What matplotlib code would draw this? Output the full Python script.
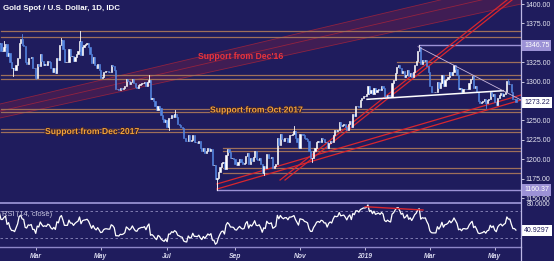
import numpy as np
import pandas as pd
import matplotlib
matplotlib.use("Agg")
import matplotlib.pyplot as plt
from matplotlib.lines import Line2D
import matplotlib.patheffects as pe
import matplotlib.transforms as mtransforms

# ---------------- data ----------------
start_date = "2018-01-02"          # first (warm-up) bar
view_start = "2018-01-29"          # first bar visible on the chart

closes = [
    # Jan 2018
    1316, 1313, 1322, 1320, 1320, 1313, 1319, 1322, 1338, 1340, 1337, 1327, 1327, 1333,
    1332, 1340, 1358, 1348, 1350, 1340, 1340, 1345,
    # Feb 2018
    1348, 1333, 1337, 1325, 1318, 1318, 1315, 1322, 1330, 1350, 1355, 1347, 1346, 1325,
    1323, 1331, 1330, 1332, 1318, 1318,
    # Mar 2018
    1305, 1323, 1320, 1335, 1327, 1321, 1323, 1321, 1327, 1325, 1317, 1313, 1317, 1311,
    1331, 1328, 1347, 1354, 1342, 1325, 1325, 1325,
    # Apr 2018
    1342, 1333, 1333, 1326, 1332, 1336, 1339, 1353, 1334, 1345, 1347, 1348, 1350, 1345,
    1335, 1324, 1332, 1322, 1317, 1323, 1315,
    # May 2018
    1305, 1306, 1312, 1314, 1314, 1313, 1313, 1322, 1320, 1315, 1290, 1290, 1289, 1292,
    1291, 1292, 1294, 1304, 1301, 1297, 1299, 1304, 1298,
    # Jun 2018
    1293, 1292, 1296, 1297, 1298, 1298, 1299, 1294, 1299, 1302, 1278, 1279, 1275, 1268,
    1263, 1269, 1266, 1257, 1252, 1248, 1251,
    # Jul 2018
    1241, 1253, 1253, 1257, 1255, 1258, 1255, 1246, 1244, 1241, 1240, 1227, 1224, 1223,
    1231, 1224, 1225, 1231, 1222, 1222, 1221, 1223,
    # Aug 2018
    1215, 1210, 1214, 1208, 1211, 1214, 1211, 1213, 1193, 1193, 1174, 1176, 1184, 1190,
    1195, 1196, 1187, 1206, 1213, 1209, 1201, 1201, 1200,
    # Sep 2018
    1194, 1193, 1197, 1200, 1196, 1194, 1195, 1204, 1208, 1194, 1201, 1198, 1203, 1210,
    1200, 1199, 1201, 1194, 1182, 1191,
    # Oct 2018
    1189, 1207, 1202, 1201, 1203, 1189, 1191, 1194, 1227, 1218, 1232, 1226, 1223, 1227,
    1227, 1222, 1231, 1231, 1233, 1236, 1228, 1222, 1215,
    # Nov 2018
    1233, 1232, 1231, 1227, 1226, 1224, 1210, 1202, 1202, 1210, 1215, 1222, 1224, 1222,
    1227, 1226, 1222, 1222, 1214, 1221, 1224, 1222,
    # Dec 2018
    1231, 1238, 1237, 1238, 1248, 1243, 1244, 1245, 1242, 1238, 1245, 1249, 1242, 1258,
    1256, 1269, 1269, 1267, 1276, 1279, 1282,
    # Jan 2019
    1282, 1284, 1294, 1285, 1289, 1284, 1292, 1287, 1289, 1291, 1289, 1294, 1292, 1282,
    1280, 1283, 1281, 1280, 1298, 1302, 1311, 1319, 1321,
    # Feb 2019
    1317, 1311, 1314, 1306, 1309, 1315, 1307, 1311, 1306, 1313, 1322, 1327, 1340, 1344,
    1323, 1328, 1327, 1328, 1320, 1313,
    # Mar 2019
    1294, 1287, 1286, 1286, 1286, 1299, 1292, 1298, 1309, 1295, 1302, 1303, 1306, 1313,
    1308, 1313, 1322, 1316, 1309, 1290, 1292,
    # Apr 2019
    1286, 1291, 1291, 1290, 1291, 1298, 1303, 1307, 1292, 1295, 1287, 1275, 1273, 1274,
    1275, 1277, 1272, 1276, 1277, 1286, 1281, 1284,
    # May 2019
    1274, 1270, 1279, 1283, 1285, 1281, 1284, 1286, 1301, 1297, 1297, 1287, 1277, 1277,
    1273.22,
]

# notable wick extremes
wick_high_dates = ["2018-02-16", "2018-04-11", "2018-06-14", "2018-07-09", "2018-10-26",
                   "2019-02-20", "2019-05-14", "2018-01-31", "2018-03-26"]
wick_high_vals = [1362, 1365.4, 1309, 1263, 1243, 1346.75, 1304, 1352, 1356]
wick_low_dates = ["2018-02-08", "2018-03-01", "2018-08-16", "2018-11-13", "2018-07-03",
                  "2018-09-28", "2019-04-23"]
wick_low_vals = [1307, 1303, 1160.37, 1196, 1238, 1180, 1266]

# horizontal support / resistance zones: (start date, price)
zone_starts = ["2018-01-29"] * 8 + ["2019-01-30"] + ["2018-08-22"] * 4
zone_prices = [1365.5, 1358.0, 1308.5, 1303.4, 1264.7, 1260.5, 1238.6, 1234.7,
               1325.7, 1214.9, 1210.6, 1188.3, 1181.9]

price_ticks = [1150, 1175, 1200, 1225, 1250, 1300, 1325, 1375, 1400]
last_price = 1273.22
swing_high = 1346.75
swing_low = 1160.37
rsi_last_label = 40.9297
rsi_upper, rsi_lower = 70, 30

month_names = {3: "Mar", 5: "May", 7: "Jul", 9: "Sep", 11: "Nov", 1: "2019"}

# ---------------- derived ----------------
closes = np.array(closes, dtype=float)
dates = pd.bdate_range(start_date, periods=len(closes))
i0 = int(np.searchsorted(dates, pd.Timestamp(view_start)))
x = np.arange(len(closes)) - i0
opens = np.r_[closes[0], closes[:-1]]


def xi(d):
    return int(np.searchsorted(dates, pd.Timestamp(d))) - i0


# RSI(14), Wilder smoothing
delta = np.diff(closes, prepend=closes[0])
gain = pd.Series(np.clip(delta, 0, None)).ewm(alpha=1 / 14, adjust=False).mean()
loss = pd.Series(np.clip(-delta, 0, None)).ewm(alpha=1 / 14, adjust=False).mean()
rsi = (100 - 100 / (1 + gain / loss.replace(0, np.nan))).to_numpy()

# ---------------- style ----------------
BG = "#1f1c5d"
UP = "#ffffff"
DN = "#5585e0"
ZONE = "#a6745a"
RED = "#d8262e"
LAV = "#9c92d6"
AXIS = "#bdb8e6"
plt.rcParams["font.family"] = ["Liberation Sans", "DejaVu Sans"]

W, H = 554, 261
fig = plt.figure(figsize=(W / 100, H / 100), dpi=100)
fig.patch.set_facecolor(BG)

ax = fig.add_axes([0, 1 - 203 / H, 521 / W, 203 / H])
axr = fig.add_axes([0, 1 - 247 / H, 521 / W, 44 / H], sharex=ax)
for a in (ax, axr):
    a.set_facecolor(BG)
    for s in a.spines.values():
        s.set_visible(False)

px = 1.51
ax.set_xlim(-1 / px, 520 / px)
ax.set_ylim(1143.6, 1405.2)
axr.set_ylim(16.2, 81.5)

# Dec'16 support band (faint)
xl, xr = -20, 400
def line_pts(p1, p2):
    (a1, b1), (a2, b2) = p1, p2
    k = (b2 - b1) / (a2 - a1)
    return [xl, xr], [b1 + k * (xl - a1), b1 + k * (xr - a1)]

band_up = line_pts((-0.66, 1271.2), (290.7, 1405.2))
band_lo = line_pts((-0.66, 1253.1), (344.4, 1400.0))
band_mid = line_pts((-0.66, 1262.0), (318.0, 1405.2))
ax.fill_between(band_up[0], band_lo[1], band_up[1], color=RED, alpha=0.18, lw=0, zorder=1)
for bx, by in (band_up, band_lo, band_mid):
    ax.plot(bx, by, color=RED, lw=0.6, alpha=0.55, zorder=1)

# horizontal zones
for d, p in zip(zone_starts, zone_prices):
    ax.plot([xi(d), 400], [p, p], color=ZONE, lw=0.9, alpha=0.95, zorder=2)

# swing high / low markers
ax.plot([xi("2018-08-16"), 400], [swing_low, swing_low], color=LAV, lw=1.0, zorder=2)
ax.plot([xi("2018-08-16")] * 2, [swing_low, 1170], color=LAV, lw=0.8, zorder=2)
ax.plot([xi("2019-02-20"), 400], [swing_high, swing_high], color=LAV, lw=1.0, zorder=2)

# rising channels
steep_k = 232 / 150.3
for off in (0.0, 3.3):
    ax.plot([184.8 + off, 400], [1173.2, 1173.2 + (400 - 184.8 - off) * steep_k],
            color=RED, lw=0.9, zorder=3)
for p_start, p_end in ((1161.6, 1276.3), (1168.1, 1282.8)):
    k = (p_end - p_start) / (344.4 - 143.0)
    ax.plot([143.0, 400], [p_start, p_start + k * (400 - 143.0)], color=RED, lw=0.9, zorder=3)

# candles
up = closes >= opens
cols = np.where(up, UP, DN)
ax.bar(x, closes - opens, bottom=opens, width=0.8, color=cols, edgecolor=cols,
       linewidth=0.45, zorder=4)
for d, v in zip(wick_high_dates, wick_high_vals):
    j = xi(d) + i0
    c = UP if up[j] else DN
    ax.plot([xi(d)] * 2, [max(opens[j], closes[j]), v], color=c, lw=0.6, zorder=4)
for d, v in zip(wick_low_dates, wick_low_vals):
    j = xi(d) + i0
    c = UP if up[j] else DN
    ax.plot([xi(d)] * 2, [min(opens[j], closes[j]), v], color=c, lw=0.6, zorder=4)

# neckline and descending line
ax.plot([242.4, 332.5], [1277.2, 1288.3], color="white", lw=1.1, zorder=5)
ax.plot([276.2, 344.4], [1345.0, 1276.3], color="#c9b6dc", lw=0.6, zorder=5)

# labels on chart
outline = [pe.withStroke(linewidth=1.2, foreground="#3a2030")]
ax.text((198 - 1) / px, 1405.2 - 57 / 0.776, "Support from Dec'16",
        color="#e8343c", fontsize=6.2, fontweight="bold", va="center", ha="left", zorder=6)
ax.text((210 - 1) / px, 1405.2 - 110 / 0.776, "Support from Oct 2017",
        color="#f2a23a", fontsize=6.2, fontweight="bold", va="center", ha="left", zorder=6,
        path_effects=outline)
ax.text((45 - 1) / px, 1405.2 - 131.5 / 0.776, "Support from Dec 2017",
        color="#f2a23a", fontsize=6.2, fontweight="bold", va="center", ha="left", zorder=6,
        path_effects=outline)

fig.text(3 / W, 1 - 8 / H, "Gold Spot / U.S. Dollar, 1D, IDC", color="white",
         fontsize=5.7, fontweight="bold", va="center", ha="left")

# right price axis
ax.yaxis.tick_right()
ax.set_yticks(price_ticks)
ax.set_yticklabels([f"{t:.2f}" for t in price_ticks])
ax.tick_params(axis="y", colors="#e6e6f2", labelsize=5.0, length=2, pad=1.2, width=0.6)
ax.tick_params(axis="x", bottom=False, labelbottom=False)

trans_p = mtransforms.blended_transform_factory(ax.transAxes, ax.transData)
def tag(axis_, tr, y, text, face, tc):
    axis_.text(1.0 + 3 / 521, y, text, transform=tr, fontsize=5.0, color=tc,
               va="center", ha="left", zorder=10, clip_on=False,
               bbox=dict(boxstyle="square,pad=0.3", fc=face, ec="none"))

tag(ax, trans_p, swing_high, f"{swing_high:.2f}", LAV, "white")
tag(ax, trans_p, last_price, f"{last_price:.2f}", "white", BG)
tag(ax, trans_p, swing_low, f"{swing_low:.2f}", LAV, "white")

# RSI panel
axr.plot(x, rsi, color="white", lw=0.9, zorder=4)
for lv in (rsi_upper, rsi_lower):
    axr.axhline(lv, color="#8f8bbd", lw=0.6, ls=(0, (3, 3)), zorder=2)
axr.plot([241.1, 279.5], [76.0, 71.1], color=RED, lw=1.0, zorder=5)
axr.text(1 / px, 64.0, "RSI (14, close)", color="#c8c6e0", fontsize=5.4,
         va="center", ha="left", zorder=6)
axr.set_yticks([])
trans_r = mtransforms.blended_transform_factory(axr.transAxes, axr.transData)
axr.text(1.0 + 6 / 521, 79.3, "80.0000", transform=trans_r, fontsize=4.8, color="#e6e6f2",
         va="center", ha="left", clip_on=False, zorder=1)
tag(axr, trans_r, rsi_last_label, f"{rsi_last_label:.4f}", "white", BG)

# month ticks
tick_pos, tick_lab = [], []
for k in range(1, len(dates)):
    if dates[k].month != dates[k - 1].month and dates[k].month in month_names and k >= i0:
        tick_pos.append(k - i0)
        tick_lab.append(month_names[dates[k].month])
axr.set_xticks(tick_pos)
axr.set_xticklabels(tick_lab)
axr.tick_params(axis="x", colors="#d6d6ec", labelsize=4.9, length=2, pad=2.5, width=0.6)
for lab in axr.get_xticklabels():
    lab.set_fontweight("bold")
    lab.set_fontstyle("italic")

# frame lines
fig.add_artist(Line2D([0, 521 / W], [1 - 203 / H] * 2, color="#8d87c8", lw=1.4))
fig.add_artist(Line2D([0, 521 / W], [1 - 247 / H] * 2, color="#8d87c8", lw=1.0))
fig.add_artist(Line2D([521 / W] * 2, [0, 1], color=AXIS, lw=0.9))

fig.savefig("out.png", dpi=100, facecolor=BG)
